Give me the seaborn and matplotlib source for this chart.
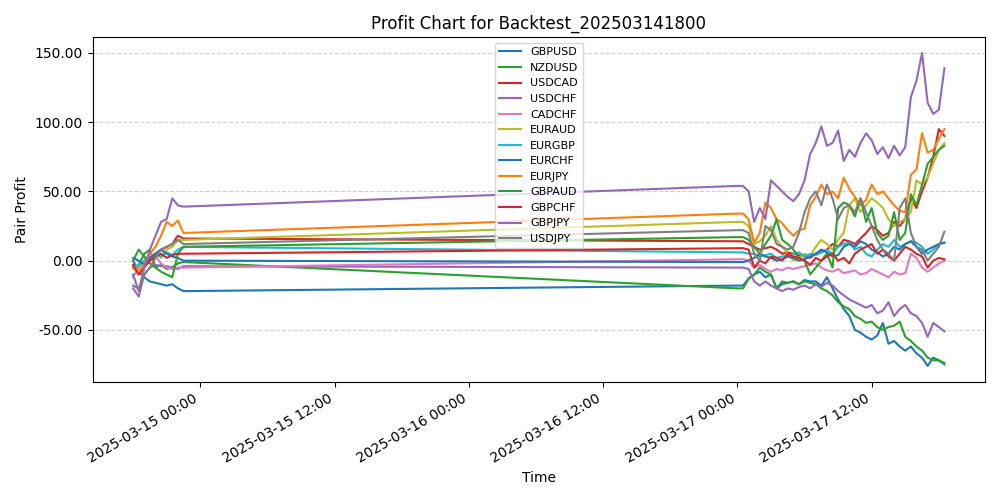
import numpy as np
import pandas as pd
import matplotlib
matplotlib.use("Agg")
import matplotlib.pyplot as plt
import matplotlib.dates as mdates
from matplotlib.ticker import FormatStrFormatter
import seaborn as sns

times = list(pd.date_range("2025-03-14 18:00", periods=10, freq="30min")) + \
        list(pd.date_range("2025-03-17 00:00", periods=38, freq="30min"))

pairs = ["GBPUSD", "NZDUSD", "USDCAD", "USDCHF", "CADCHF", "EURAUD", "EURGBP",
         "EURCHF", "EURJPY", "GBPAUD", "GBPCHF", "GBPJPY", "USDJPY"]
colors = ["#1f77b4", "#2ca02c", "#d62728", "#9467bd", "#e377c2", "#bcbd22", "#17becf",
          "#1f77b4", "#ff7f0e", "#2ca02c", "#d62728", "#9467bd", "#7f7f7f"]

GBPUSD = [0,-8,-12,-15,-16,-17,-18,-17,-20,-22,
          -18,-18,-13,-10,-8,-12,-10,-20,-17,-16,-15,-17,-14,-15,-15,-18,-12,-20,-28,-35,-40,-50,-52,-55,-57,-54,-45,-60,-58,-62,-65,-62,-67,-70,-76,-70,-72,-74]
NZDUSD = [-5,-3,5,8,-5,-3,-6,-5,-2,-1,
          -20,-20,-13,-10,-5,-8,-10,-20,-15,-16,-15,-17,-15,-16,-17,-20,-22,-25,-30,-33,-35,-40,-42,-45,-44,-48,-50,-48,-47,-44,-55,-58,-62,-65,-70,-72,-72,-75]
USDCAD = [-5,-8,-3,2,5,8,10,12,18,16,
          14,14,12,10,8,9,10,8,5,6,5,4,3,2,5,6,8,12,10,15,14,12,16,20,25,22,18,20,28,25,30,45,38,50,60,75,95,90]
USDCHF = [-20,-26,-10,-5,-3,-4,-4,-5,-6,-4,
          -5,-5,-6,-15,-18,-15,-18,-20,-22,-20,-21,-19,-18,-20,-17,-19,-16,-18,-22,-25,-28,-30,-32,-34,-32,-38,-36,-30,-40,-35,-32,-38,-40,-45,-55,-45,-48,-51]
CADCHF = [-12,-5,0,5,3,-2,-5,-6,-5,-5,
          1,1,0,-5,-3,-6,-8,-6,-7,-5,-6,-5,-4,-3,-2,-5,-7,-8,-6,-9,-8,-7,-10,-9,-6,-8,-10,-12,-8,-10,-9,5,2,-5,-8,-5,-2,0]
EURAUD = [-3,-8,0,3,5,2,8,10,15,15,
          28,28,25,12,14,18,25,15,10,5,0,2,5,3,10,15,12,8,15,20,40,45,35,40,45,42,38,30,25,28,30,35,58,55,60,70,80,85]
EURGBP = [-5,-3,0,2,5,3,6,4,8,10,
          6,6,5,5,3,4,5,2,3,4,5,6,3,5,4,6,8,5,10,12,13,8,10,5,3,8,12,10,15,10,12,14,13,10,5,8,12,13]
EURCHF = [2,0,-3,2,5,8,5,3,2,0,
          -1,-1,0,2,5,3,2,0,1,3,2,0,1,3,5,8,6,3,4,10,12,10,14,12,8,6,3,5,10,8,12,14,10,5,8,10,12,13]
EURJPY = [-5,-10,-3,5,10,18,28,25,29,20,
          34,34,30,13,20,42,38,30,27,22,18,22,23,40,46,55,48,50,45,60,52,46,40,44,55,48,50,45,40,36,35,62,66,92,78,80,88,95]
GBPAUD = [0,8,3,-2,-5,-8,-10,-12,5,10,
          17,17,15,10,5,12,18,30,15,12,8,2,0,-10,-5,0,5,-5,38,42,40,32,45,28,38,20,15,18,35,15,20,48,40,55,70,75,80,83]
GBPCHF = [-3,-10,-5,0,3,5,2,4,5,5,
          9,9,8,-5,0,-2,3,2,0,5,3,2,0,-3,2,0,3,5,0,2,-2,5,8,10,12,5,8,3,0,5,10,8,5,3,-5,0,2,1]
GBPJPY = [-10,-22,-5,8,18,28,30,45,40,39,
          54,54,50,28,38,30,58,54,50,46,43,48,58,77,85,97,83,85,94,72,80,75,85,92,87,77,82,74,83,76,82,118,130,150,114,106,109,139]
USDJPY = [-18,-20,-10,-5,2,8,10,12,15,12,
          22,22,20,5,0,25,22,12,10,8,10,20,35,45,50,40,55,45,30,38,40,35,45,35,25,15,8,5,0,38,45,20,10,8,0,5,10,21]

series = [GBPUSD, NZDUSD, USDCAD, USDCHF, CADCHF, EURAUD, EURGBP,
          EURCHF, EURJPY, GBPAUD, GBPCHF, GBPJPY, USDJPY]

rows = []
for p, vals in zip(pairs, series):
    for t, v in zip(times, vals):
        rows.append({"Time": t, "Profit": v, "Pair": p})
df = pd.DataFrame(rows)

fig, ax = plt.subplots(figsize=(10, 5), dpi=100)
sns.lineplot(data=df, x="Time", y="Profit", hue="Pair", hue_order=pairs,
             palette=colors, ax=ax, linewidth=1.5)
ax.set_title("Profit Chart for Backtest_202503141800")
ax.set_xlabel("Time")
ax.set_ylabel("Pair Profit")
ax.yaxis.set_major_formatter(FormatStrFormatter("%.2f"))
ax.xaxis.set_major_locator(mdates.HourLocator(byhour=[0, 12]))
ax.xaxis.set_major_formatter(mdates.DateFormatter("%Y-%m-%d %H:%M"))
ax.grid(axis="y", linestyle="--", alpha=0.6)
ax.legend(loc="upper center", fontsize=8, title=None)
fig.autofmt_xdate()
fig.tight_layout()
fig.savefig("out.png")
